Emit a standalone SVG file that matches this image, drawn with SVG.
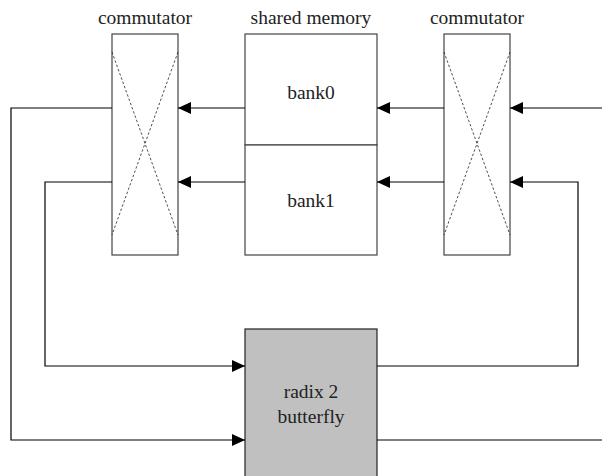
<svg xmlns="http://www.w3.org/2000/svg" width="602" height="476" viewBox="0 0 602 476">
<style>
.box{fill:#fff;stroke:#444;stroke-width:1.2}
.bf{fill:#c0c0c0;stroke:#222;stroke-width:1.2}
.x{stroke:#222;stroke-width:0.8;stroke-dasharray:2.5,2;fill:none}
.t{font-family:"Liberation Serif",serif;font-size:19.5px;fill:#222;text-anchor:middle}
.c{fill:none;stroke:#000;stroke-width:1.2}
</style>
<defs>
<marker id="ah" viewBox="0 0 13 12" refX="13" refY="6" markerWidth="13" markerHeight="12" markerUnits="userSpaceOnUse" orient="auto">
<path d="M0,0 L13,6 L0,12 Z" fill="#000"/>
</marker>
</defs>
<rect width="602" height="476" fill="#fff"/>
<g id="commutator-left">
<rect class="box" x="112" y="34" width="66" height="221"/>
<line class="x" x1="112" y1="52" x2="178" y2="235"/>
<line class="x" x1="178" y1="52" x2="112" y2="235"/>
<text class="t" x="145" y="24">commutator</text>
</g>
<g id="shared-memory">
<text class="t" x="311" y="24">shared memory</text>
<g id="bank0">
<rect class="box" x="245" y="34" width="132" height="111"/>
<text class="t" x="311" y="99">bank0</text>
</g>
<g id="bank1">
<rect class="box" x="245" y="145" width="132" height="110"/>
<text class="t" x="311" y="207">bank1</text>
</g>
</g>
<g id="commutator-right">
<rect class="box" x="444" y="34" width="66" height="221"/>
<line class="x" x1="444" y1="52" x2="510" y2="235"/>
<line class="x" x1="510" y1="52" x2="444" y2="235"/>
<text class="t" x="477" y="24">commutator</text>
</g>
<g id="butterfly">
<rect class="bf" x="245" y="329" width="132" height="150"/>
<text class="t" x="311" y="398">radix 2</text>
<text class="t" x="311" y="423">butterfly</text>
</g>
<g id="connectors">
<path class="c" d="M245,108 H178" marker-end="url(#ah)"/>
<path class="c" d="M245,182 H178" marker-end="url(#ah)"/>
<path class="c" d="M444,108 H377" marker-end="url(#ah)"/>
<path class="c" d="M444,182 H377" marker-end="url(#ah)"/>
<path class="c" d="M602,108 H510" marker-end="url(#ah)"/>
<path class="c" d="M377,366 H578 V182 H510" marker-end="url(#ah)"/>
<path class="c" d="M112,108 H11 V440 H245" marker-end="url(#ah)"/>
<path class="c" d="M112,182 H45 V366 H245" marker-end="url(#ah)"/>
<path class="c" d="M377,440 H602"/>
</g>
</svg>
